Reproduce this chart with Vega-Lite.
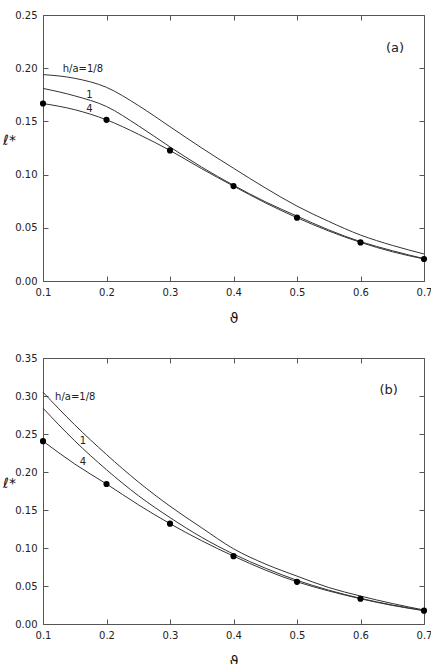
{
  "$schema": "https://vega.github.io/schema/vega-lite/v6.json",
  "background": "white",
  "padding": {"left": 2, "top": 9, "right": 0, "bottom": 0},
  "spacing": 26,
  "config": {
    "font": "DejaVu Sans",
    "view": {"stroke": "#555", "strokeWidth": 1},
    "axis": {"grid": false, "domain": false, "tickColor": "#555", "labelColor": "#222", "labelFontSize": 10, "labelFlush": false, "titleColor": "#111", "titleFontWeight": "normal", "tickSize": -5, "labelPadding": 11}
  },
  "datasets": {
    "curves_a": [
      {"series": "1/8", "x": 0.1, "y": 0.194}, {"series": "1/8", "x": 0.15, "y": 0.1905}, {"series": "1/8", "x": 0.2, "y": 0.182}, {"series": "1/8", "x": 0.25, "y": 0.165}, {"series": "1/8", "x": 0.3, "y": 0.145}, {"series": "1/8", "x": 0.35, "y": 0.125}, {"series": "1/8", "x": 0.4, "y": 0.106}, {"series": "1/8", "x": 0.45, "y": 0.0875}, {"series": "1/8", "x": 0.5, "y": 0.0704}, {"series": "1/8", "x": 0.55, "y": 0.056}, {"series": "1/8", "x": 0.6, "y": 0.0432}, {"series": "1/8", "x": 0.65, "y": 0.0335}, {"series": "1/8", "x": 0.7, "y": 0.0254},
      {"series": "1", "x": 0.1, "y": 0.181}, {"series": "1", "x": 0.15, "y": 0.174}, {"series": "1", "x": 0.2, "y": 0.164}, {"series": "1", "x": 0.25, "y": 0.146}, {"series": "1", "x": 0.3, "y": 0.126}, {"series": "1", "x": 0.35, "y": 0.107}, {"series": "1", "x": 0.4, "y": 0.09}, {"series": "1", "x": 0.45, "y": 0.0745}, {"series": "1", "x": 0.5, "y": 0.061}, {"series": "1", "x": 0.55, "y": 0.048}, {"series": "1", "x": 0.6, "y": 0.037}, {"series": "1", "x": 0.65, "y": 0.0285}, {"series": "1", "x": 0.7, "y": 0.021},
      {"series": "4", "x": 0.1, "y": 0.1668}, {"series": "4", "x": 0.15, "y": 0.161}, {"series": "4", "x": 0.2, "y": 0.1515}, {"series": "4", "x": 0.25, "y": 0.138}, {"series": "4", "x": 0.3, "y": 0.1227}, {"series": "4", "x": 0.35, "y": 0.1055}, {"series": "4", "x": 0.4, "y": 0.0892}, {"series": "4", "x": 0.45, "y": 0.0735}, {"series": "4", "x": 0.5, "y": 0.0595}, {"series": "4", "x": 0.55, "y": 0.047}, {"series": "4", "x": 0.6, "y": 0.0363}, {"series": "4", "x": 0.65, "y": 0.0275}, {"series": "4", "x": 0.7, "y": 0.0207}
    ],
    "points_a": [
      {"x": 0.1, "y": 0.1668}, {"x": 0.2, "y": 0.1515}, {"x": 0.3, "y": 0.1227}, {"x": 0.4, "y": 0.0892}, {"x": 0.5, "y": 0.0595}, {"x": 0.6, "y": 0.0363}, {"x": 0.7, "y": 0.0207}
    ],
    "labels_a": [
      {"x": 0.131, "y": 0.199, "text": "h/a=1/8", "size": 10},
      {"x": 0.168, "y": 0.175, "text": "1", "size": 10},
      {"x": 0.168, "y": 0.162, "text": "4", "size": 10},
      {"x": 0.64, "y": 0.219, "text": "(a)", "size": 13}
    ],
    "curves_b": [
      {"series": "1/8", "x": 0.1, "y": 0.305}, {"series": "1/8", "x": 0.15, "y": 0.262}, {"series": "1/8", "x": 0.2, "y": 0.223}, {"series": "1/8", "x": 0.25, "y": 0.187}, {"series": "1/8", "x": 0.3, "y": 0.155}, {"series": "1/8", "x": 0.35, "y": 0.1265}, {"series": "1/8", "x": 0.4, "y": 0.099}, {"series": "1/8", "x": 0.45, "y": 0.079}, {"series": "1/8", "x": 0.5, "y": 0.063}, {"series": "1/8", "x": 0.55, "y": 0.048}, {"series": "1/8", "x": 0.6, "y": 0.0368}, {"series": "1/8", "x": 0.65, "y": 0.027}, {"series": "1/8", "x": 0.7, "y": 0.0184},
      {"series": "1", "x": 0.1, "y": 0.284}, {"series": "1", "x": 0.15, "y": 0.241}, {"series": "1", "x": 0.2, "y": 0.203}, {"series": "1", "x": 0.25, "y": 0.169}, {"series": "1", "x": 0.3, "y": 0.14}, {"series": "1", "x": 0.35, "y": 0.114}, {"series": "1", "x": 0.4, "y": 0.092}, {"series": "1", "x": 0.45, "y": 0.0735}, {"series": "1", "x": 0.5, "y": 0.0575}, {"series": "1", "x": 0.55, "y": 0.0445}, {"series": "1", "x": 0.6, "y": 0.0338}, {"series": "1", "x": 0.65, "y": 0.025}, {"series": "1", "x": 0.7, "y": 0.0178},
      {"series": "4", "x": 0.1, "y": 0.2406}, {"series": "4", "x": 0.15, "y": 0.2105}, {"series": "4", "x": 0.2, "y": 0.1842}, {"series": "4", "x": 0.25, "y": 0.157}, {"series": "4", "x": 0.3, "y": 0.132}, {"series": "4", "x": 0.35, "y": 0.1095}, {"series": "4", "x": 0.4, "y": 0.0893}, {"series": "4", "x": 0.45, "y": 0.071}, {"series": "4", "x": 0.5, "y": 0.0555}, {"series": "4", "x": 0.55, "y": 0.0435}, {"series": "4", "x": 0.6, "y": 0.0332}, {"series": "4", "x": 0.65, "y": 0.0245}, {"series": "4", "x": 0.7, "y": 0.0175}
    ],
    "points_b": [
      {"x": 0.1, "y": 0.2406}, {"x": 0.2, "y": 0.1842}, {"x": 0.3, "y": 0.132}, {"x": 0.4, "y": 0.0893}, {"x": 0.5, "y": 0.0555}, {"x": 0.6, "y": 0.0332}, {"x": 0.7, "y": 0.0175}
    ],
    "labels_b": [
      {"x": 0.119, "y": 0.299, "text": "h/a=1/8", "size": 10},
      {"x": 0.158, "y": 0.2406, "text": "1", "size": 10},
      {"x": 0.158, "y": 0.213, "text": "4", "size": 10},
      {"x": 0.63, "y": 0.3076, "text": "(b)", "size": 13}
    ]
  },
  "vconcat": [
    {
      "width": 381,
      "height": 266,
      "layer": [
        {
          "data": {"name": "curves_a"},
          "mark": {"type": "line", "color": "#333", "strokeWidth": 1, "interpolate": "monotone"},
          "encoding": {
            "x": {"field": "x", "type": "quantitative", "scale": {"domain": [0.1, 0.7], "nice": false, "zero": false},
              "axis": {"orient": "bottom", "values": [0.1, 0.2, 0.3, 0.4, 0.5, 0.6, 0.7], "format": ".1f", "title": "ϑ", "titleFontSize": 14, "titlePadding": 14}},
            "y": {"field": "y", "type": "quantitative", "scale": {"domain": [0, 0.25], "nice": false},
              "axis": {"orient": "left", "values": [0, 0.05, 0.1, 0.15, 0.2, 0.25], "format": ".2f", "title": "ℓ*", "titleFontSize": 14, "titleAngle": 0, "titleAlign": "center", "titleBaseline": "middle", "titleX": -34, "titleY": 125}},
            "detail": {"field": "series"}
          }
        },
        {
          "data": {"name": "points_a"},
          "mark": {"type": "point", "filled": true, "color": "black", "opacity": 1, "size": 38},
          "encoding": {
            "x": {"field": "x", "type": "quantitative", "axis": {"orient": "top", "values": [0.1, 0.2, 0.3, 0.4, 0.5, 0.6, 0.7], "labels": false, "title": null}},
            "y": {"field": "y", "type": "quantitative", "axis": {"orient": "right", "values": [0, 0.05, 0.1, 0.15, 0.2, 0.25], "labels": false, "title": null}}
          }
        },
        {
          "data": {"name": "labels_a"},
          "mark": {"type": "text", "align": "left", "baseline": "middle", "color": "#222"},
          "encoding": {
            "x": {"field": "x", "type": "quantitative", "axis": null},
            "y": {"field": "y", "type": "quantitative", "axis": null},
            "text": {"field": "text"},
            "size": {"field": "size", "type": "quantitative", "scale": null}
          }
        }
      ],
      "resolve": {"axis": {"x": "independent", "y": "independent"}}
    },
    {
      "width": 381,
      "height": 266,
      "layer": [
        {
          "data": {"name": "curves_b"},
          "mark": {"type": "line", "color": "#333", "strokeWidth": 1, "interpolate": "monotone"},
          "encoding": {
            "x": {"field": "x", "type": "quantitative", "scale": {"domain": [0.1, 0.7], "nice": false, "zero": false},
              "axis": {"orient": "bottom", "values": [0.1, 0.2, 0.3, 0.4, 0.5, 0.6, 0.7], "format": ".1f", "title": "ϑ", "titleFontSize": 14, "titlePadding": 14}},
            "y": {"field": "y", "type": "quantitative", "scale": {"domain": [0, 0.35], "nice": false},
              "axis": {"orient": "left", "values": [0, 0.05, 0.1, 0.15, 0.2, 0.25, 0.3, 0.35], "format": ".2f", "title": "ℓ*", "titleFontSize": 14, "titleAngle": 0, "titleAlign": "center", "titleBaseline": "middle", "titleX": -34, "titleY": 125}},
            "detail": {"field": "series"}
          }
        },
        {
          "data": {"name": "points_b"},
          "mark": {"type": "point", "filled": true, "color": "black", "opacity": 1, "size": 38},
          "encoding": {
            "x": {"field": "x", "type": "quantitative", "axis": {"orient": "top", "values": [0.1, 0.2, 0.3, 0.4, 0.5, 0.6, 0.7], "labels": false, "title": null}},
            "y": {"field": "y", "type": "quantitative", "axis": {"orient": "right", "values": [0, 0.05, 0.1, 0.15, 0.2, 0.25, 0.3, 0.35], "labels": false, "title": null}}
          }
        },
        {
          "data": {"name": "labels_b"},
          "mark": {"type": "text", "align": "left", "baseline": "middle", "color": "#222"},
          "encoding": {
            "x": {"field": "x", "type": "quantitative", "axis": null},
            "y": {"field": "y", "type": "quantitative", "axis": null},
            "text": {"field": "text"},
            "size": {"field": "size", "type": "quantitative", "scale": null}
          }
        }
      ],
      "resolve": {"axis": {"x": "independent", "y": "independent"}}
    }
  ]
}
